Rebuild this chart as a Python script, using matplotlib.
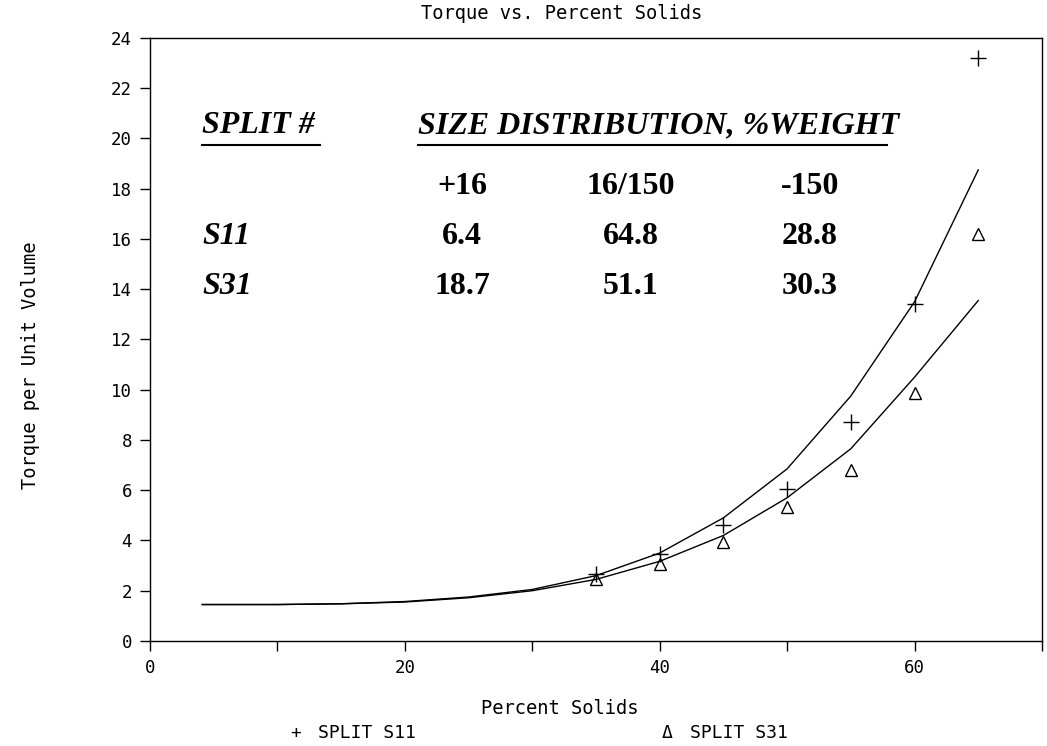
import matplotlib
matplotlib.use("Agg")
import matplotlib.pyplot as plt

# measured points
pct_solids = [35, 40, 45, 50, 55, 60, 65]
torque_s11 = [2.65, 3.45, 4.6, 6.05, 8.7, 13.4, 23.2]
torque_s31 = [2.45, 3.05, 3.95, 5.35, 6.8, 9.85, 16.2]

# fitted curves
fit_x = [4.1, 10, 15, 20, 25, 30, 35, 40, 45, 50, 55, 60, 65]
fit_s11 = [1.45, 1.45, 1.48, 1.57, 1.75, 2.05, 2.6, 3.5, 4.9, 6.85, 9.75, 13.5, 18.75]
fit_s31 = [1.45, 1.45, 1.48, 1.55, 1.72, 2.0, 2.45, 3.17, 4.2, 5.7, 7.65, 10.5, 13.55]

# size distribution table
fractions = ["+16", "16/150", "-150"]
split_names = ["S11", "S31"]
split_s11 = ["6.4", "64.8", "28.8"]
split_s31 = ["18.7", "51.1", "30.3"]

plotter = 'DejaVu Sans Mono'
fig = plt.figure(figsize=(10.47, 7.46), dpi=100)
ax = fig.add_axes([0.1433, 0.1408, 0.8519, 0.8083])

ax.plot(fit_x, fit_s11, color='black', lw=1.0)
ax.plot(fit_x, fit_s31, color='black', lw=1.0)
ax.plot(pct_solids, torque_s11, '+', color='black', ms=11, mew=1.0, ls='none')
ax.plot(pct_solids, torque_s31, '^', color='black', mfc='none', ms=9, mew=1.0, ls='none')

ax.set_xlim(0, 70)
ax.set_ylim(0, 24)
ax.set_xticks(range(0, 71, 10))
ax.set_xticklabels(['0', '', '20', '', '40', '', '60', ''])
ax.set_yticks(range(0, 25, 2))
ax.tick_params(direction='out', length=7, width=1, labelsize=12.5, pad=6)
for lbl in ax.get_xticklabels() + ax.get_yticklabels():
    lbl.set_family(plotter)
for s in ax.spines.values():
    s.set_linewidth(1.0)

# table text
serif = 'Liberation Serif'
fs = 23
hdr = dict(family=serif, fontsize=fs, fontweight='bold', style='italic',
           va='center', ha='left')
ax.text(4.1, 20.5, "SPLIT #", **hdr)
ax.text(21.0, 20.5, "SIZE DISTRIBUTION, %WEIGHT", **hdr)
ax.plot([4.1, 13.3], [19.75, 19.75], color='black', lw=1.5)
ax.plot([21.0, 57.8], [19.75, 19.75], color='black', lw=1.5)

col_x = [24.5, 37.7, 51.8]
num = dict(family=serif, fontsize=fs, fontweight='bold', va='center', ha='center')
for cx, f in zip(col_x, fractions):
    ax.text(cx, 18.1, f, **num)
rows_y = [16.1, 14.1]
for ry, name, vals in zip(rows_y, split_names, [split_s11, split_s31]):
    ax.text(4.1, ry, name, family=serif, fontsize=fs, fontweight='bold',
            style='italic', va='center', ha='left')
    for cx, v in zip(col_x, vals):
        ax.text(cx, ry, v, **num)

fig.text(0.536, 0.982, "Torque vs. Percent Solids", ha='center', va='center',
         fontsize=13.5, family=plotter)
fig.text(0.535, 0.05, "Percent Solids", ha='center', va='center',
         fontsize=13.5, family=plotter)
fig.text(0.029, 0.51, "Torque per Unit Volume", ha='center', va='center',
         rotation=90, fontsize=13.5, family=plotter)

# legend
fig.text(0.282, 0.018, "+", ha='center', va='center', fontsize=13, family=plotter)
fig.text(0.304, 0.018, "SPLIT S11", ha='left', va='center', fontsize=13, family=plotter)
fig.text(0.637, 0.018, "\u0394", ha='center', va='center', fontsize=13, family=plotter)
fig.text(0.659, 0.018, "SPLIT S31", ha='left', va='center', fontsize=13, family=plotter)

fig.savefig("out.png", dpi=100)
